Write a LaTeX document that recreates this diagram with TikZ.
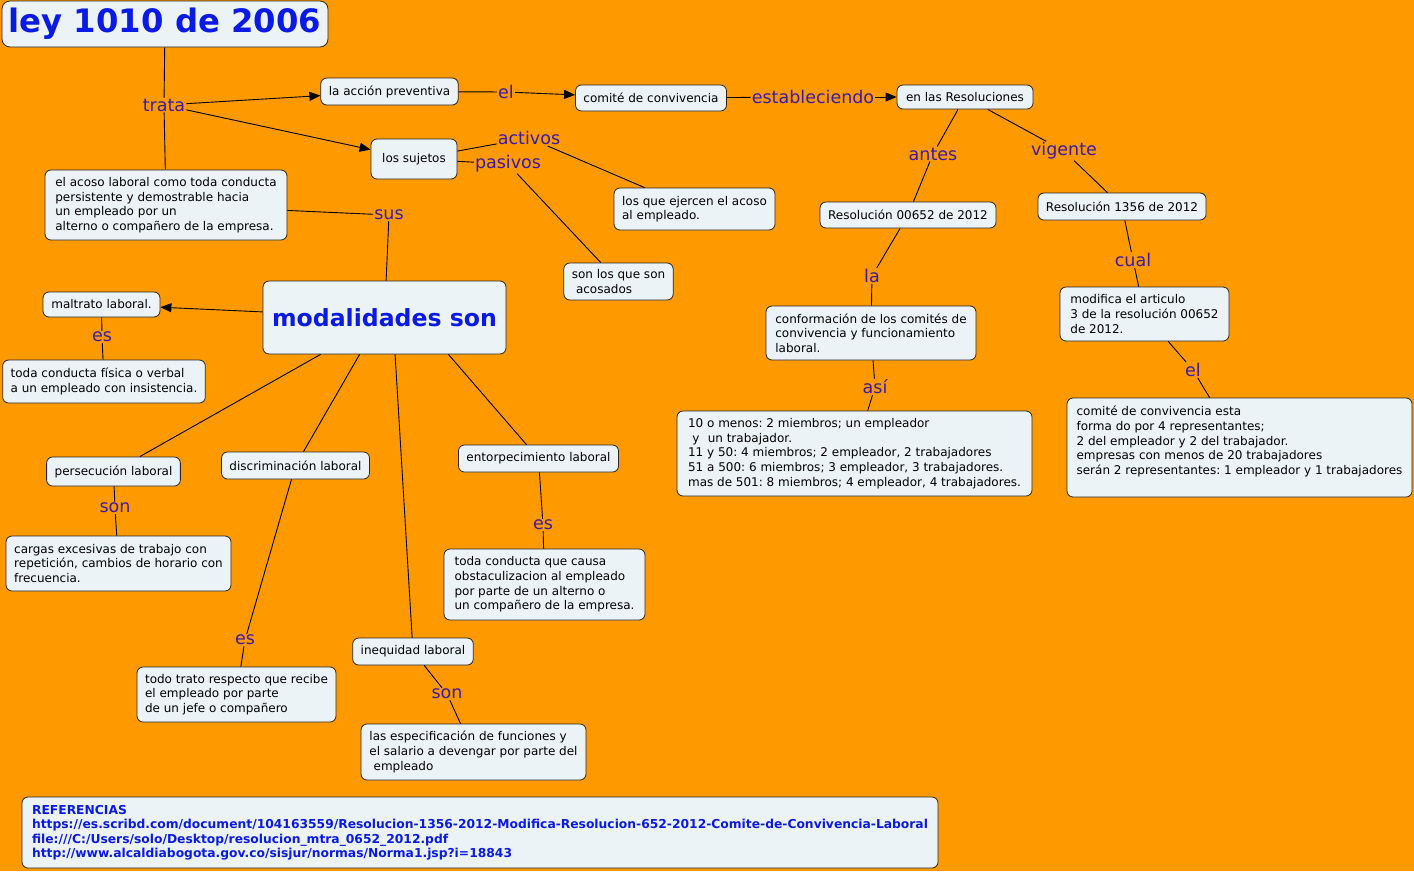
\documentclass[tikz,border=0pt]{standalone}
\usepackage{fontspec}
\setmainfont{DejaVu Sans}
\usetikzlibrary{arrows.meta}
\frenchspacing

\definecolor{fondo}{RGB}{255,153,0}
\definecolor{caja}{RGB}{236,243,246}
\definecolor{enlacec}{RGB}{58,26,168}
\definecolor{titulo}{RGB}{10,26,230}

\tikzset{
  concepto/.style={draw=black!85, fill=caja, rounded corners=6pt, align=left,
    inner xsep=8pt, inner ysep=5pt, line width=0.8pt,
    font=\fontsize{12}{14.6}\selectfont},
  enlace/.style={text=enlacec, inner sep=1pt, font=\fontsize{17.5}{20}\selectfont},
  sz/.style 2 args={minimum width=#1, minimum height=#2},
  linea/.style={line width=0.9pt},
  flecha/.style={line width=0.9pt, -{Triangle[length=11pt,width=9pt]}},
}

\begin{document}
\begin{tikzpicture}[x=1pt, y=-1pt]
\fill[fondo] (0,0) rectangle (1414,871);
\useasboundingbox (0,0) rectangle (1414,871);

% titulo y primer nivel
\node[concepto, sz={326pt}{46pt}, text=titulo, rounded corners=8pt, inner xsep=2pt,
  font=\fontsize{32.3}{36}\selectfont\bfseries] (ley) at (165,24) {ley 1010 de 2006};
\node[enlace] (trata) at (164,105) {trata};
\node[concepto, sz={137pt}{27pt}] (accion) at (389.5,91.5) {la acción preventiva};
\node[enlace] (el1) at (506,92) {el};
\node[concepto, sz={148pt}{26pt}] (comite) at (651,98) {comité de convivencia};
\node[enlace] (establ) at (813,97) {estableciendo};
\node[concepto, sz={136pt}{24pt}] (resol) at (965,97) {en las Resoluciones};
\node[concepto, sz={86pt}{40pt}] (sujetos) at (414,159) {los sujetos};
\node[enlace] (activos) at (529,138) {activos};
\node[enlace] (pasivos) at (508,164) {pasivos};
\node[concepto, sz={161pt}{42pt}] (ejercen) at (694.5,209)
  {los que ejercen el acoso\\al empleado.};
\node[concepto, sz={109pt}{37pt}] (acosados) at (618.5,281.5)
  {son los que son\\\hspace{0.35em}acosados};
\node[concepto, sz={242pt}{70pt}] (acoso) at (166,205)
  {el acoso laboral como toda conducta\\persistente y demostrable hacia\\un empleado por un\\alterno o compañero de la empresa.};
\node[enlace] (sus) at (389,215) {sus};
\node[concepto, sz={243pt}{73pt}, text=titulo,
  font=\fontsize{23.6}{28}\selectfont\bfseries] (modal) at (384.5,317.5) {modalidades son};

% resoluciones
\node[enlace] (antes) at (933,154) {antes};
\node[enlace] (vigente) at (1064,151) {vigente};
\node[concepto, sz={176pt}{26pt}] (res652) at (908,215) {Resolución 00652 de 2012};
\node[concepto, sz={168pt}{27pt}] (res1356) at (1122,206.5) {Resolución 1356 de 2012};
\node[enlace] (la) at (872,276) {la};
\node[enlace] (cual) at (1133,260) {cual};
\node[concepto, sz={210pt}{54pt}] (conform) at (871,333)
  {conformación de los comités de\\convivencia y funcionamiento\\laboral.};
\node[concepto, sz={169pt}{54pt}] (modif) at (1144.5,314)
  {modifica el articulo\\3 de la resolución 00652\\de 2012.};
\node[enlace] (asi) at (875,387) {así};
\node[enlace] (el2) at (1193,370) {el};
\node[concepto, sz={355pt}{85pt}] (miembros) at (854.5,453.5)
  {10 o menos: 2 miembros; un empleador\\\hspace{0.35em}y\hspace{0.7em}un trabajador.\\11 y 50: 4 miembros; 2 empleador, 2 trabajadores\\51 a 500: 6 miembros; 3 empleador, 3 trabajadores.\\mas de 501: 8 miembros; 4 empleador, 4 trabajadores.};
\node[concepto, sz={345pt}{99pt}] (repres) at (1239.5,447.5)
  {comité de convivencia esta\\forma do por 4 representantes;\\2 del empleador y 2 del trabajador.\\empresas con menos de 20 trabajadores\\serán 2 representantes: 1 empleador y 1 trabajadores\\\mbox{}};

% modalidades
\node[concepto, sz={117pt}{25pt}] (maltrato) at (101.5,304.5) {maltrato laboral.};
\node[enlace] (es1) at (102,337) {es};
\node[concepto, sz={202pt}{43pt}] (fisica) at (104,381.5)
  {toda conducta física o verbal\\a un empleado con insistencia.};
\node[concepto, sz={133pt}{29pt}] (persec) at (113.5,471.5) {persecución laboral};
\node[enlace] (son1) at (115,508) {son};
\node[concepto, sz={225pt}{55pt}] (cargas) at (118.5,563.5)
  {cargas excesivas de trabajo con\\repetición, cambios de horario con\\frecuencia.};
\node[concepto, sz={147pt}{27pt}] (discrim) at (295.5,465.5) {discriminación laboral};
\node[enlace] (es2) at (245,640) {es};
\node[concepto, sz={199pt}{55pt}] (trato) at (236.5,694.5)
  {todo trato respecto que recibe\\el empleado por parte\\de un jefe o compañero};
\node[concepto, sz={118pt}{27pt}] (inequi) at (413,651.5) {inequidad laboral};
\node[enlace] (son2) at (447,694) {son};
\node[concepto, sz={225pt}{56pt}] (especif) at (473.5,752)
  {las especificación de funciones y\\el salario a devengar por parte del\\\hspace{0.35em}empleado};
\node[concepto, sz={159pt}{27pt}] (entorp) at (538.5,458.5) {entorpecimiento laboral};
\node[enlace] (es3) at (543,525) {es};
\node[concepto, sz={201pt}{71pt}] (obstac) at (544.5,584.5)
  {toda conducta que causa\\obstaculizacion al empleado\\por parte de un alterno o\\un compañero de la empresa.};

% referencias
\node[concepto, sz={916pt}{71pt}, text=titulo,
  font=\fontsize{12.3}{14.5}\selectfont\bfseries] (refs) at (480,832.5)
  {REFERENCIAS\\https://es.scribd.com/document/104163559/Resolucion-1356-2012-Modifica-Resolucion-652-2012-Comite-de-Convivencia-Laboral\\file:///C:/Users/solo/Desktop/resolucion\_mtra\_0652\_2012.pdf\\http://www.alcaldiabogota.gov.co/sisjur/normas/Norma1.jsp?i=18843};

% conectores
\draw[linea] (ley) -- (trata);
\draw[linea] (trata) -- (acoso);
\draw[flecha] (trata) -- (accion);
\draw[flecha] (trata) -- (sujetos);
\draw[linea] (accion) -- (el1);
\draw[flecha] (el1) -- (comite);
\draw[linea] (comite) -- (establ);
\draw[flecha] (establ) -- (resol);
\draw[linea] (sujetos) -- (activos);
\draw[linea] (activos) -- (ejercen);
\draw[linea] (sujetos) -- (pasivos);
\draw[linea] (pasivos) -- (acosados);
\draw[linea] (acoso) -- (sus);
\draw[linea] (sus) -- (modal);
\draw[linea] (resol) -- (antes);
\draw[linea] (antes) -- (res652);
\draw[linea] (resol) -- (vigente);
\draw[linea] (vigente) -- (res1356);
\draw[linea] (res652) -- (la);
\draw[linea] (la) -- (conform);
\draw[linea] (conform) -- (asi);
\draw[linea] (asi) -- (miembros);
\draw[linea] (res1356) -- (cual);
\draw[linea] (cual) -- (modif);
\draw[linea] (modif) -- (el2);
\draw[linea] (el2) -- (repres);
\draw[flecha] (modal) -- (maltrato);
\draw[linea] (maltrato) -- (es1);
\draw[linea] (es1) -- (fisica);
\draw[linea] (modal.-150) -- (persec);
\draw[linea] (persec) -- (son1);
\draw[linea] (son1) -- (cargas);
\draw[linea] (modal.-124) -- (discrim);
\draw[linea] (discrim) -- (es2);
\draw[linea] (es2) -- (trato);
\draw[linea] (modal.-74) -- (inequi);
\draw[linea] (inequi) -- (son2);
\draw[linea] (son2) -- (especif);
\draw[linea] (modal.-30) -- (entorp);
\draw[linea] (entorp) -- (es3);
\draw[linea] (es3) -- (obstac);
\end{tikzpicture}
\end{document}
